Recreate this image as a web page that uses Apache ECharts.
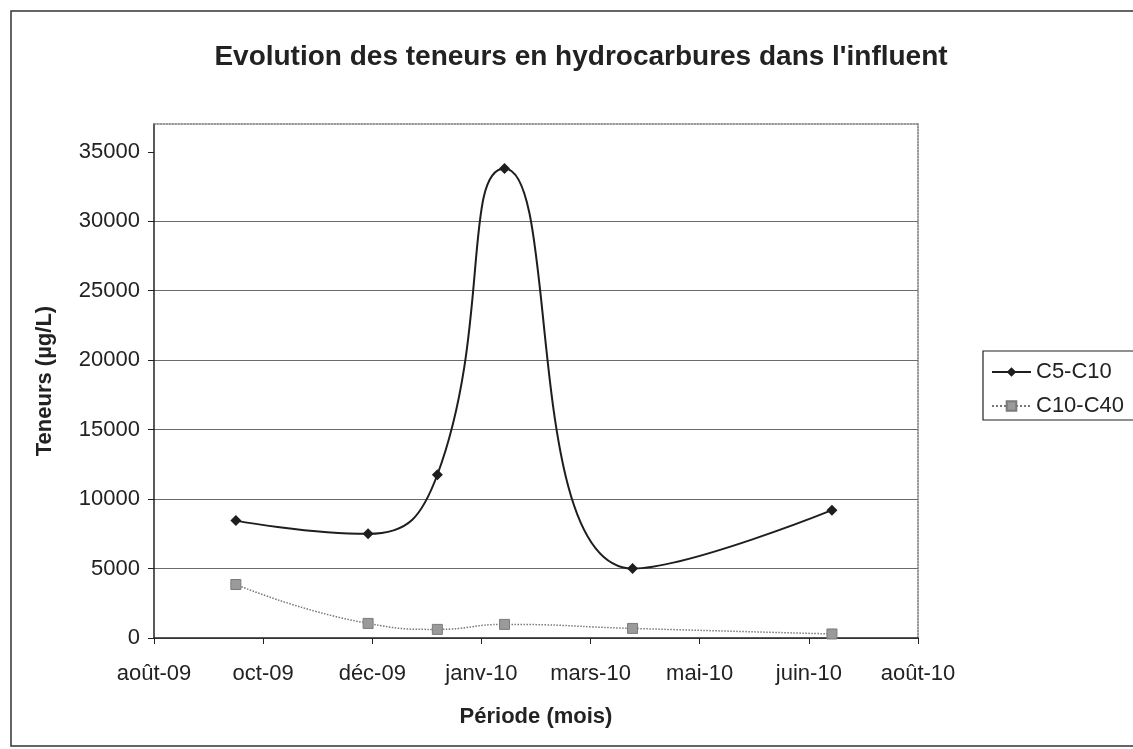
<!DOCTYPE html>
<html>
<head>
<meta charset="utf-8">
<script src="https://cdn.jsdelivr.net/npm/echarts@6/dist/echarts.min.js"></script>
<style>
  html, body { margin: 0; padding: 0; background: #fff; }
  #main { width: 1133px; height: 749px; }
</style>
</head>
<body>
<div id="main"></div>
<script>
// dates de prélèvement
var dates = ['2009-09-28', '2009-11-30', '2010-01-02', '2010-02-03', '2010-04-05', '2010-07-09'];
var c5c10 = [8450, 7500, 11750, 33800, 5000, 9200];     // C5-C10 (µg/L)
var c10c40 = [3850, 1050, 620, 980, 690, 290];          // C10-C40 (µg/L)
var xTickLabels = ['août-09', 'oct-09', 'déc-09', 'janv-10', 'mars-10', 'mai-10', 'juin-10', 'août-10'];
var yTicks = [0, 5000, 10000, 15000, 20000, 25000, 30000, 35000];

var DAY = 24 * 3600 * 1000;
var xMin = Date.UTC(2009, 7, 20);
var xStep = 52 * DAY;                   // pas des graduations
var xMax = xMin + xStep * (xTickLabels.length - 1);

function toTime(s) {
  var p = s.split('-');
  return Date.UTC(+p[0], +p[1] - 1, +p[2]);
}

var font = 'Arial, "Liberation Sans", sans-serif';
var chart = echarts.init(document.getElementById('main'));

var option = {
  backgroundColor: '#fff',
  animation: false,
  title: {
    text: "Evolution des teneurs en hydrocarbures dans l'influent",
    left: 576,
    top: 38,
    textAlign: 'center',
    textStyle: { fontFamily: font, fontSize: 28, fontWeight: 'bold', color: '#222' }
  },
  graphic: [{
    type: 'rect',
    shape: { x: 11, y: 11, width: 1140, height: 735 },
    style: { fill: 'none', stroke: '#333', lineWidth: 1.5 },
    silent: true
  }],
  legend: {
    orient: 'vertical',
    left: 983,
    top: 351,
    padding: [10, 20, 3, 8],
    itemGap: 12,
    itemWidth: 39,
    itemHeight: 12,
    borderColor: '#222',
    borderWidth: 1.2,
    textStyle: { fontFamily: font, fontSize: 22, color: '#222' },
    data: ['C5-C10', 'C10-C40']
  },
  grid: { left: 154, right: 215, top: 124, bottom: 111 },
  xAxis: [{
    type: 'value',
    min: xMin,
    max: xMax,
    interval: xStep,
    name: 'Période (mois)',
    nameLocation: 'middle',
    nameGap: 68,
    nameTextStyle: { fontFamily: font, fontSize: 22, fontWeight: 'bold', color: '#222' },
    axisLine: { onZero: false, lineStyle: { color: '#222', width: 1.5 } },
    axisTick: { show: true, inside: false, length: 6, lineStyle: { color: '#222' } },
    axisLabel: {
      margin: 25,
      fontFamily: font, fontSize: 22, color: '#222',
      formatter: function (v) { return xTickLabels[Math.round((v - xMin) / xStep)] || ''; }
    },
    splitLine: { show: false }
  }, {
    type: 'value',
    position: 'top',
    min: xMin,
    max: xMax,
    axisLine: { show: true, onZero: false, lineStyle: { color: '#777', type: 'dotted', width: 1.5 } },
    axisTick: { show: false },
    axisLabel: { show: false },
    splitLine: { show: false }
  }],
  yAxis: [{
    type: 'value',
    min: 0,
    max: 37000,
    interval: 5000,
    name: 'Teneurs (µg/L)',
    nameLocation: 'middle',
    nameGap: 98,
    nameTextStyle: { fontFamily: font, fontSize: 22, fontWeight: 'bold', color: '#222' },
    axisLine: { show: true, onZero: false, lineStyle: { color: '#222', width: 1.5 } },
    axisTick: { show: true, inside: false, length: 6, customValues: yTicks, lineStyle: { color: '#222' } },
    axisLabel: {
      margin: 14,
      customValues: yTicks,
      fontFamily: font, fontSize: 22, color: '#222',
      formatter: function (v) { return String(v); }
    },
    splitLine: { show: true, showMaxLine: false, lineStyle: { color: '#6a6a6a', width: 1 } }
  }, {
    type: 'value',
    position: 'right',
    min: 0,
    max: 37000,
    axisLine: { show: true, onZero: false, lineStyle: { color: '#777', type: 'dotted', width: 1.5 } },
    axisTick: { show: false },
    axisLabel: { show: false },
    splitLine: { show: false }
  }],
  series: [{
    name: 'C5-C10',
    type: 'line',
    smooth: 0.5,
    symbol: 'diamond',
    symbolSize: 11,
    itemStyle: { color: '#1e1e1e' },
    lineStyle: { color: '#1e1e1e', width: 2 },
    data: dates.map(function (d, i) { return [toTime(d), c5c10[i]]; })
  }, {
    name: 'C10-C40',
    type: 'line',
    smooth: 0.5,
    symbol: 'rect',
    symbolSize: 10,
    itemStyle: { color: '#9a9a9a', borderColor: '#7a7a7a', borderWidth: 1 },
    lineStyle: { color: '#777', width: 1.5, type: 'dotted' },
    data: dates.map(function (d, i) { return [toTime(d), c10c40[i]]; })
  }]
};

chart.setOption(option);
</script>
</body>
</html>
